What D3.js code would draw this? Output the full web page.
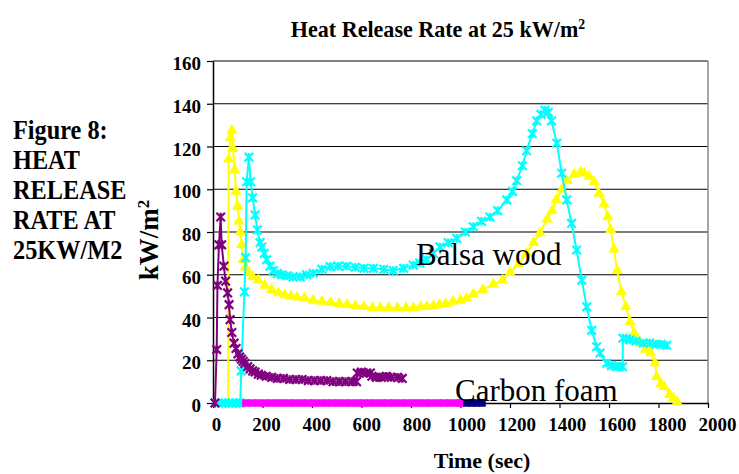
<!DOCTYPE html>
<html>
<head>
<meta charset="utf-8">
<script src="https://cdn.jsdelivr.net/npm/d3@7"></script>
<style>
  body { margin: 0; background: #fff; }
</style>
</head>
<body>
<div id="chart"></div>
<script>
const WIDTH = 739;
const HEIGHT = 474;
const PLOT_LEFT = 213;
const PLOT_RIGHT = 708;
const PLOT_TOP = 61;
const PLOT_BOTTOM = 403;
const FONT = '"Liberation Serif", "Times New Roman", serif';

const X_TICKS = [0, 200, 400, 600, 800, 1000, 1200, 1400, 1600, 1800, 2000];
const Y_TICKS = [0, 20, 40, 60, 80, 100, 120, 140, 160];

// time (s) / heat release rate (kW/m2)
const PURPLE_TIME = [8, 15, 18, 24, 31, 35, 44, 51, 59, 65, 69, 76, 85, 93, 101, 108, 115, 122, 129, 140, 150, 160, 170, 183, 195, 215, 237, 260, 285, 310, 335, 360, 385, 410, 435, 460, 485, 510, 535, 560, 580, 583, 600, 620, 636, 642, 660, 680, 700, 720, 745, 765];
const PURPLE_HRR = [0, 25, 55, 74, 87, 74, 64, 57, 51.5, 46, 39, 33, 28, 25.5, 23, 21.5, 20.5, 19.5, 18.5, 17, 16, 15, 14.5, 13.5, 13, 12.5, 12, 11.5, 11.5, 11, 11, 11, 10.5, 10.5, 10.5, 10.5, 10, 10, 10, 10, 10, 14, 14.5, 14, 14, 12.5, 12, 12, 12.5, 12, 12, 11.5];

const YELLOW_TIME = [61, 63, 70, 76, 81, 87, 93, 100, 105, 110, 116, 122, 130, 143, 160, 183, 210, 237, 265, 290, 315, 340, 370, 405, 440, 475, 510, 541, 575, 610, 645, 676, 710, 745, 780, 810, 840, 865, 891, 915, 940, 970, 1000, 1025, 1052, 1090, 1133, 1170, 1200, 1235, 1267, 1295, 1321, 1350, 1370, 1387, 1410, 1430, 1460, 1485, 1500, 1520, 1540, 1560, 1580, 1595, 1607, 1620, 1633, 1650, 1668, 1685, 1702, 1729, 1748, 1768, 1786, 1793, 1810, 1823, 1845, 1860, 1875];
const YELLOW_HRR = [0, 114, 124, 127.5, 119, 109, 99, 92, 85, 80, 74, 67, 63.5, 61, 59, 57.5, 55, 53, 51.5, 50.5, 50, 49.5, 49, 48, 47.5, 47, 46.5, 46, 45.5, 45, 44.5, 44.5, 44.5, 44.5, 44.5, 44.5, 45, 45, 45.5, 46, 46.5, 47.5, 48, 49, 51, 53, 55.5, 57.5, 61, 65, 70, 75, 79.5, 86, 90, 95, 100, 104, 107, 108, 107.5, 106, 103.5, 98, 93, 87, 81, 72, 62, 52, 45, 38, 32.7, 28, 25, 23.4, 18.7, 12.3, 9, 7.6, 4, 2.3, 0.5];

const CYAN_TIME = [8, 22, 36, 50, 64, 78, 92, 105, 110, 114, 127, 132, 136, 145, 152, 160, 170, 179, 190, 197, 207, 217, 230, 244, 260, 278, 300, 324, 352, 378, 405, 440, 473, 505, 540, 575, 610, 648, 690, 728, 770, 809, 835, 863, 890, 917, 950, 985, 1020, 1052, 1085, 1119, 1150, 1187, 1210, 1227, 1250, 1267, 1290, 1308, 1325, 1341, 1355, 1368, 1389, 1409, 1429, 1449, 1469, 1490, 1510, 1530, 1550, 1564, 1591, 1610, 1631, 1655, 1656, 1670, 1685, 1710, 1739, 1765, 1790, 1810, 1833];
const CYAN_HRR = [0, 0, 0, 0, 0, 0, 0, 0, 0, 15, 52, 68, 103.5, 115, 103.5, 96, 88, 81, 75, 73, 70, 67, 64, 62, 60.5, 60, 59.5, 59, 59, 60, 60.7, 62.5, 63.8, 64, 64, 63.5, 63, 63, 62.5, 62, 63, 64.5, 65.5, 67, 70, 73, 75, 77, 80, 82.5, 85, 87, 90, 95, 99, 104, 111, 118, 126, 132, 135, 137, 136, 132, 121.5, 107.5, 95, 84, 71.6, 57.5, 45, 34, 26.3, 23.4, 18.6, 17.5, 17, 17, 30.3, 30, 29.5, 29, 28, 28, 27.5, 27.5, 27];

const MAGENTA_TIME = [133, 158, 183, 208, 233, 258, 283, 308, 333, 358, 383, 408, 433, 458, 483, 508, 533, 558, 583, 608, 633, 658, 683, 708, 733, 758, 783, 808, 833, 858, 883, 908, 933, 958, 983, 998];
const MAGENTA_HRR = [0, 0, 0, 0, 0, 0, 0, 0, 0, 0, 0, 0, 0, 0, 0, 0, 0, 0, 0, 0, 0, 0, 0, 0, 0, 0, 0, 0, 0, 0, 0, 0, 0, 0, 0, 0];

const NAVY_TIME = [1026, 1045, 1065, 1087];
const NAVY_HRR = [0, 0, 0, 0];

const LEFT_CAPTION = ['Figure 8:', 'HEAT', 'RELEASE', 'RATE AT', '25KW/M2'];

/**
 * zip a time array and a value array into points
 */
const toPoints = (times, values) => times.map((t, i) => ({ t, v: values[i] }));

// star marker: an X with a vertical stroke
const starPath = (s) => `M${-s},${-s}L${s},${s}M${-s},${s}L${s},${-s}M0,${-s}L0,${s}`;

const SERIES = [
	{ points: toPoints(YELLOW_TIME, YELLOW_HRR), color: '#ffff00', marker: 'triangle' },
	{ points: toPoints(CYAN_TIME, CYAN_HRR), color: '#00ffff', marker: 'star' },
	{ points: toPoints(PURPLE_TIME, PURPLE_HRR), color: '#800080', marker: 'star' },
	{ points: toPoints(MAGENTA_TIME, MAGENTA_HRR), color: '#ff00ff', marker: 'square' },
	{ points: toPoints(NAVY_TIME, NAVY_HRR), color: '#000080', marker: 'square' }
];

const main = () => {
	const svg = d3.select('#chart')
		.append('svg')
		.attr('width', WIDTH)
		.attr('height', HEIGHT)
		.style('font-family', FONT);

	const xScale = d3.scaleLinear().domain([0, 2000]).range([PLOT_LEFT, PLOT_RIGHT]);
	const yScale = d3.scaleLinear().domain([0, 160]).range([PLOT_BOTTOM, PLOT_TOP]);
	// the tick labels sit a little right of their ticks in the original
	const xLabelScale = d3.scaleLinear().domain([0, 2000]).range([PLOT_LEFT + 3, PLOT_RIGHT + 9]);

	// gridlines
	svg.append('g')
		.selectAll('line')
		.data(Y_TICKS.filter(d => d > 0))
		.enter()
		.append('line')
		.attr('x1', PLOT_LEFT)
		.attr('x2', PLOT_RIGHT)
		.attr('y1', d => yScale(d))
		.attr('y2', d => yScale(d))
		.attr('stroke', '#000')
		.attr('stroke-width', 1.2);

	// right border of the plot area
	svg.append('line')
		.attr('x1', PLOT_RIGHT)
		.attr('x2', PLOT_RIGHT)
		.attr('y1', PLOT_TOP)
		.attr('y2', PLOT_BOTTOM)
		.attr('stroke', '#888')
		.attr('stroke-width', 1.5);

	// axes
	const yAxis = svg.append('g')
		.attr('transform', `translate(${PLOT_LEFT}, 0)`)
		.call(d3.axisLeft(yScale).tickValues(Y_TICKS).tickSize(6).tickPadding(6).tickSizeOuter(0));
	yAxis.selectAll('text')
		.attr('dy', '0.45em')
		.style('font-size', '19px')
		.style('font-weight', 'bold')
		.style('font-family', FONT);

	const xAxis = svg.append('g')
		.attr('transform', `translate(0, ${PLOT_BOTTOM})`)
		.call(d3.axisBottom(xScale).tickValues(X_TICKS).tickSize(5).tickSizeOuter(0).tickFormat(''));
	svg.append('g')
		.attr('transform', `translate(0, ${PLOT_BOTTOM})`)
		.call(d3.axisBottom(xLabelScale).tickValues(X_TICKS).tickSize(0).tickPadding(15).tickFormat(d3.format('d')))
		.call(g => g.select('.domain').remove())
		.selectAll('text')
		.style('font-size', '19px')
		.style('font-weight', 'bold')
		.style('font-family', FONT);

	[yAxis, xAxis].forEach(g => {
		g.select('.domain').attr('stroke', '#000').attr('stroke-width', 1.5);
		g.selectAll('.tick line').attr('stroke', '#000').attr('stroke-width', 1.2);
	});

	// series: a line with a marker on every reading
	const line = d3.line()
		.x(d => xScale(d.t))
		.y(d => yScale(d.v));

	const triangle = d3.symbol().type(d3.symbolTriangle).size(56)();
	const square = d3.symbol().type(d3.symbolSquare).size(56)();

	SERIES.forEach(s => {
		const g = svg.append('g');
		g.append('path')
			.datum(s.points)
			.attr('d', line)
			.attr('fill', 'none')
			.attr('stroke', s.color)
			.attr('stroke-width', 2)
			.attr('stroke-linejoin', 'round');

		const marks = g.selectAll('path.mark')
			.data(s.points)
			.enter()
			.append('path')
			.attr('class', 'mark')
			.attr('transform', d => `translate(${xScale(d.t)}, ${yScale(d.v)})`);

		if (s.marker === 'star') {
			marks.attr('d', starPath(4.3))
				.attr('fill', 'none')
				.attr('stroke', s.color)
				.attr('stroke-width', 2.2);
		} else if (s.marker === 'triangle') {
			marks.attr('d', triangle).attr('fill', s.color);
		} else {
			marks.attr('d', square).attr('fill', s.color);
		}
	});

	// series names written in the plot
	svg.append('text')
		.attr('x', 416)
		.attr('y', 265)
		.style('font-size', '31px')
		.text('Balsa wood');

	svg.append('text')
		.attr('x', 455)
		.attr('y', 401)
		.style('font-size', '31px')
		.text('Carbon foam');

	// title
	const title = svg.append('text')
		.attr('transform', 'translate(438, 37) scale(0.92, 1)')
		.style('font-size', '24px')
		.style('font-weight', 'bold')
		.style('text-anchor', 'middle');
	title.append('tspan').text('Heat Release Rate at 25 kW/m');
	title.append('tspan').attr('dy', '-0.55em').style('font-size', '15px').text('2');

	// axis titles
	const yTitle = svg.append('text')
		.attr('transform', 'translate(158, 240) rotate(-90)')
		.style('font-size', '27px')
		.style('font-weight', 'bold')
		.style('text-anchor', 'middle');
	yTitle.append('tspan').text('kW/m');
	yTitle.append('tspan').attr('dy', '-0.55em').style('font-size', '17px').text('2');

	svg.append('text')
		.attr('x', 482)
		.attr('y', 468)
		.style('font-size', '22px')
		.style('font-weight', 'bold')
		.style('text-anchor', 'middle')
		.text('Time (sec)');

	// caption on the left
	svg.append('g')
		.selectAll('text')
		.data(LEFT_CAPTION)
		.enter()
		.append('text')
		.attr('transform', (d, i) => `translate(13, ${139 + i * 30}) scale(0.9, 1)`)
		.style('font-size', '27px')
		.style('font-weight', 'bold')
		.text(d => d);
};

main();
</script>
</body>
</html>
